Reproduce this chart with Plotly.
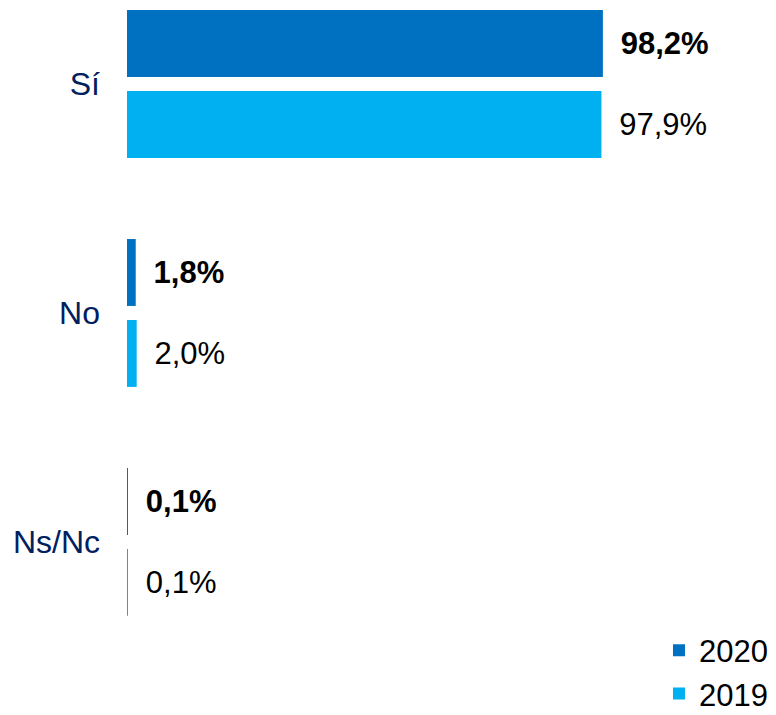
import plotly.graph_objects as go

categories = ["Sí", "No", "Ns/Nc"]
values_2020 = [98.2, 1.8, 0.1]
values_2019 = [97.9, 2.0, 0.1]
labels_2020 = ["98,2%", "1,8%", "0,1%"]
labels_2019 = ["97,9%", "2,0%", "0,1%"]

FONT = "Liberation Sans, Arial, sans-serif"
FS = 31
pad = "\u00a0\u2009"

fig = go.Figure()
fig.add_trace(go.Bar(
    name="2020", y=categories, x=values_2020, orientation="h",
    marker=dict(color="#0070C0", line=dict(width=0)),
    text=[pad + "<b>" + t + "</b>" for t in labels_2020],
    textposition="outside", cliponaxis=False,
    textfont=dict(family=FONT, size=FS, color="#000000"),
    legendgroup="a",
))
fig.add_trace(go.Bar(
    name="2019", y=categories, x=values_2019, orientation="h",
    marker=dict(color="#00B0F0", line=dict(width=0)),
    text=[pad + t for t in labels_2019],
    textposition="outside", cliponaxis=False,
    textfont=dict(family=FONT, size=FS, color="#000000"),
    legendgroup="b",
))

# page body has an 8px default margin, so the figure is 8px smaller than the window
fig.update_layout(
    width=768, height=707,
    margin=dict(l=119, r=19, t=0, b=95, autoexpand=False),
    paper_bgcolor="white", plot_bgcolor="white",
    barmode="group", bargap=0.293, bargroupgap=0.173,
    font=dict(family=FONT, size=FS, color="#000000"),
    xaxis=dict(range=[0, 130], visible=False, showgrid=False, zeroline=False),
    yaxis=dict(range=[2.341, -0.332], showgrid=False, zeroline=False, showline=False,
               tickfont=dict(family=FONT, size=32, color="#002060"),
               ticklabelstandoff=26, ticks=""),
    legend=dict(x=0.8444, xanchor="left",
                y=-0.006, yanchor="top", traceorder="normal", tracegroupgap=27,
                font=dict(family=FONT, size=31, color="#000000"),
                bgcolor="rgba(0,0,0,0)"),
    showlegend=True,
)

fig.write_html("out.html")
